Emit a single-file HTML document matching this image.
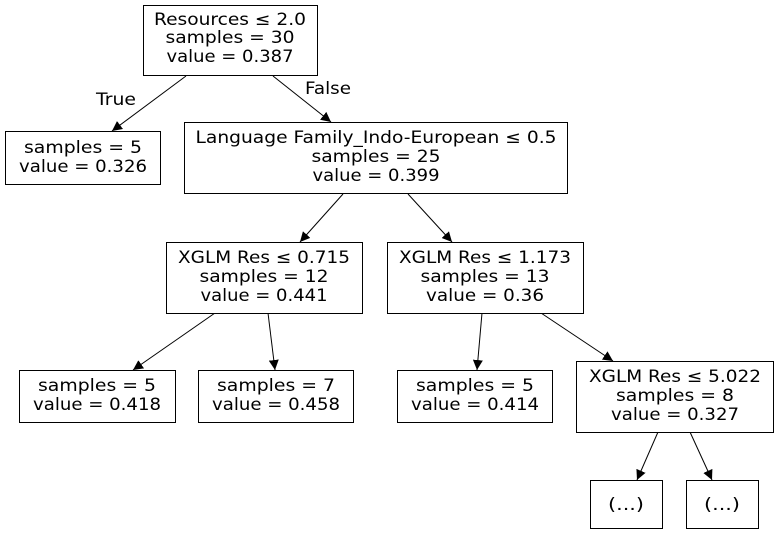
<!DOCTYPE html>
<html><head><meta charset="utf-8"><style>
html,body{margin:0;padding:0;background:#fff;}
svg text{font-family:"DejaVu Sans","Liberation Sans",sans-serif;font-size:16.5px;fill:#000;}
</style></head><body>
<svg width="778" height="533" viewBox="0 0 778 533">
<defs><marker id="ah" markerWidth="10" markerHeight="10" refX="10" refY="5" orient="auto" markerUnits="userSpaceOnUse"><path d="M0,0 L10,5 L0,10 z" fill="#000"/></marker></defs>
<g stroke="#000" stroke-width="1" marker-end="url(#ah)">
<line x1="186" y1="76" x2="112" y2="131"/>
<line x1="273" y1="76" x2="331" y2="122"/>
<line x1="343" y1="194" x2="300" y2="242"/>
<line x1="408" y1="194" x2="452" y2="242"/>
<line x1="215" y1="313" x2="133" y2="370"/>
<line x1="268" y1="313" x2="275" y2="370"/>
<line x1="482" y1="313" x2="477" y2="370"/>
<line x1="541" y1="313" x2="613" y2="361"/>
<line x1="658" y1="432" x2="637" y2="480"/>
<line x1="690" y1="432" x2="712" y2="480"/>
</g>
<text x="116" y="105" text-anchor="middle" textLength="40" lengthAdjust="spacingAndGlyphs">True</text>
<text x="328" y="94" text-anchor="middle" textLength="46" lengthAdjust="spacingAndGlyphs">False</text>
<g fill="#fff" stroke="#000" stroke-width="1">
<rect x="143.5" y="5.5" width="174" height="70"/>
<rect x="5.5" y="131.5" width="155" height="53"/>
<rect x="184.5" y="122.5" width="383" height="71"/>
<rect x="166.5" y="242.5" width="196" height="71"/>
<rect x="387.5" y="242.5" width="196" height="71"/>
<rect x="19.5" y="370.5" width="156" height="52"/>
<rect x="198.5" y="370.5" width="155" height="52"/>
<rect x="397.5" y="370.5" width="155" height="52"/>
<rect x="576.5" y="361.5" width="197" height="71"/>
<rect x="590.5" y="480.5" width="72" height="48"/>
<rect x="686.5" y="480.5" width="72" height="48"/>
</g>
<g text-anchor="middle" lengthAdjust="spacingAndGlyphs">
<text x="230" y="25" textLength="152" lengthAdjust="spacingAndGlyphs">Resources ≤ 2.0</text><text x="230" y="43" textLength="129" lengthAdjust="spacingAndGlyphs">samples = 30</text><text x="230" y="62" textLength="127" lengthAdjust="spacingAndGlyphs">value = 0.387</text>
<text x="83" y="153" textLength="118" lengthAdjust="spacingAndGlyphs">samples = 5</text><text x="83" y="172" textLength="128" lengthAdjust="spacingAndGlyphs">value = 0.326</text>
<text x="376" y="143" textLength="361" lengthAdjust="spacingAndGlyphs">Language Family_Indo-European ≤ 0.5</text><text x="376" y="162" textLength="129" lengthAdjust="spacingAndGlyphs">samples = 25</text><text x="376" y="181" textLength="127" lengthAdjust="spacingAndGlyphs">value = 0.399</text>
<text x="264" y="263" textLength="172" lengthAdjust="spacingAndGlyphs">XGLM Res ≤ 0.715</text><text x="264" y="282" textLength="129" lengthAdjust="spacingAndGlyphs">samples = 12</text><text x="264" y="301" textLength="127" lengthAdjust="spacingAndGlyphs">value = 0.441</text>
<text x="485" y="263" textLength="172" lengthAdjust="spacingAndGlyphs">XGLM Res ≤ 1.173</text><text x="485" y="282" textLength="129" lengthAdjust="spacingAndGlyphs">samples = 13</text><text x="485" y="301" textLength="118" lengthAdjust="spacingAndGlyphs">value = 0.36</text>
<text x="97" y="391" textLength="118" lengthAdjust="spacingAndGlyphs">samples = 5</text><text x="97" y="410" textLength="128" lengthAdjust="spacingAndGlyphs">value = 0.418</text>
<text x="276" y="391" textLength="118" lengthAdjust="spacingAndGlyphs">samples = 7</text><text x="276" y="410" textLength="128" lengthAdjust="spacingAndGlyphs">value = 0.458</text>
<text x="475" y="391" textLength="118" lengthAdjust="spacingAndGlyphs">samples = 5</text><text x="475" y="410" textLength="128" lengthAdjust="spacingAndGlyphs">value = 0.414</text>
<text x="675" y="382" textLength="172" lengthAdjust="spacingAndGlyphs">XGLM Res ≤ 5.022</text><text x="675" y="401" textLength="118" lengthAdjust="spacingAndGlyphs">samples = 8</text><text x="675" y="420" textLength="128" lengthAdjust="spacingAndGlyphs">value = 0.327</text>
<text x="626" y="510" textLength="36" lengthAdjust="spacingAndGlyphs">(...)</text><text x="722" y="510" textLength="36" lengthAdjust="spacingAndGlyphs">(...)</text>
</g>
</svg>
</body></html>
